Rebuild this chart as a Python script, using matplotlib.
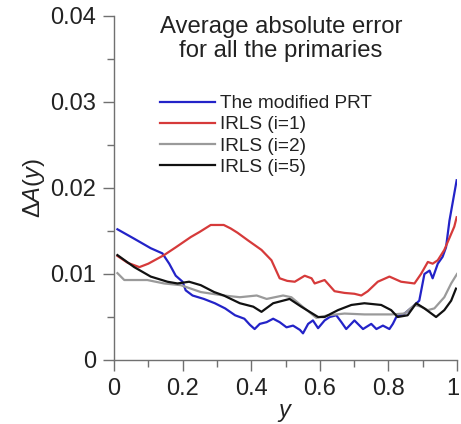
import matplotlib
matplotlib.use("Agg")
import matplotlib.pyplot as plt
from matplotlib.ticker import MultipleLocator
from matplotlib.transforms import ScaledTranslation

plt.rcParams['font.family'] = ['Liberation Sans', 'DejaVu Sans']
plt.rcParams['mathtext.fontset'] = 'custom'
plt.rcParams['mathtext.rm'] = 'Liberation Sans'
plt.rcParams['mathtext.it'] = 'Liberation Sans:italic'

# ---- data ----
labels = ["The modified PRT", "IRLS (i=1)", "IRLS (i=2)", "IRLS (i=5)"]
colors = ["#2323c8", "#d63a3a", "#9a9a9a", "#111111"]

x_prt = [0.01, 0.059, 0.107, 0.141, 0.161, 0.18, 0.2, 0.209, 0.229, 0.262, 0.294, 0.324, 0.353,
         0.38, 0.396, 0.41, 0.425, 0.445, 0.464, 0.483, 0.503, 0.522, 0.542, 0.551, 0.566, 0.58,
         0.595, 0.614, 0.629, 0.648, 0.663, 0.677, 0.701, 0.726, 0.75, 0.765, 0.784, 0.803, 0.813,
         0.823, 0.847, 0.871, 0.89, 0.905, 0.92, 0.929, 0.944, 0.958, 0.968, 0.978, 0.999]
y_prt = [0.0152, 0.0141, 0.0130, 0.0124, 0.0112, 0.0098, 0.0091, 0.0081, 0.0075, 0.0071, 0.0066,
         0.0060, 0.0052, 0.0048, 0.0041, 0.0036, 0.0042, 0.0044, 0.0048, 0.0044, 0.0038, 0.0040,
         0.0035, 0.0031, 0.0042, 0.0046, 0.0037, 0.0046, 0.0050, 0.0052, 0.0044, 0.0036, 0.0046,
         0.0036, 0.0042, 0.0036, 0.0040, 0.0036, 0.0042, 0.0050, 0.0054, 0.0062, 0.0069, 0.0100,
         0.0104, 0.0095, 0.0112, 0.0120, 0.0131, 0.0162, 0.0209]

x_i1 = [0.01, 0.04, 0.074, 0.1, 0.146, 0.18, 0.224, 0.25, 0.282, 0.32, 0.34, 0.36, 0.391, 0.43,
        0.459, 0.483, 0.505, 0.527, 0.556, 0.576, 0.585, 0.614, 0.643, 0.672, 0.701, 0.721, 0.74,
        0.769, 0.803, 0.837, 0.876, 0.895, 0.915, 0.929, 0.944, 0.963, 0.992, 0.999]
y_i1 = [0.0121, 0.0113, 0.0108, 0.0112, 0.0122, 0.0131, 0.0143, 0.0149, 0.0157, 0.0157, 0.0153,
        0.0148, 0.0139, 0.0128, 0.0116, 0.0095, 0.0092, 0.0091, 0.0098, 0.0095, 0.0089, 0.0093,
        0.0080, 0.0078, 0.0077, 0.0075, 0.0080, 0.0091, 0.0097, 0.0091, 0.0089, 0.0100, 0.0114,
        0.0112, 0.0116, 0.0128, 0.0155, 0.0166]

x_i2 = [0.01, 0.03, 0.097, 0.146, 0.195, 0.253, 0.32, 0.367, 0.416, 0.445, 0.493, 0.517, 0.556,
        0.59, 0.624, 0.672, 0.73, 0.808, 0.847, 0.876, 0.895, 0.915, 0.934, 0.963, 0.983, 1.0]
y_i2 = [0.0101, 0.0093, 0.0093, 0.0089, 0.0087, 0.0079, 0.0075, 0.0073, 0.0075, 0.0071, 0.0075,
        0.0073, 0.0060, 0.0049, 0.0052, 0.0054, 0.0053, 0.0053, 0.0054, 0.0064, 0.0062, 0.0058,
        0.0060, 0.0073, 0.0089, 0.0100]

x_i5 = [0.01, 0.059, 0.107, 0.156, 0.185, 0.219, 0.253, 0.292, 0.32, 0.367, 0.406, 0.43, 0.464,
        0.512, 0.546, 0.595, 0.614, 0.653, 0.692, 0.73, 0.779, 0.808, 0.827, 0.856, 0.881, 0.905,
        0.939, 0.963, 0.983, 0.997]
y_i5 = [0.0122, 0.0108, 0.0097, 0.0091, 0.0089, 0.0091, 0.0087, 0.0079, 0.0075, 0.0066, 0.0062,
        0.0056, 0.0066, 0.0071, 0.0062, 0.0050, 0.0050, 0.0058, 0.0064, 0.0066, 0.0064, 0.0058,
        0.0050, 0.0052, 0.0066, 0.0060, 0.0050, 0.0058, 0.0069, 0.0083]

x_ticks = [0, 0.2, 0.4, 0.6, 0.8, 1]
x_ticklabels = ["0", "0.2", "0.4", "0.6", "0.8", "1"]
y_ticks = [0, 0.01, 0.02, 0.03, 0.04]
y_ticklabels = ["0", "0.01", "0.02", "0.03", "0.04"]

title = "Average absolute error\nfor all the primaries"

# ---- figure ----
fig = plt.figure(figsize=(4.61, 4.24), dpi=100)
ax = fig.add_axes([114/461, 1 - 360/424, 343/461, 344/424])

series = [(x_prt, y_prt), (x_i1, y_i1), (x_i2, y_i2), (x_i5, y_i5)]
handles = []
for (xs, ys), c, lab in zip(series, colors, labels):
    h, = ax.plot(xs, ys, color=c, lw=1.6, label=lab)
    handles.append(h)

ax.set_xlim(0, 1)
ax.set_ylim(0, 0.04)
ax.set_xticks(x_ticks)
ax.set_xticklabels(x_ticklabels)
ax.set_yticks(y_ticks)
ax.set_yticklabels(y_ticklabels)
ax.xaxis.set_minor_locator(MultipleLocator(0.1))
ax.yaxis.set_minor_locator(MultipleLocator(0.005))

for s in ["top", "right"]:
    ax.spines[s].set_visible(False)
for s in ["left", "bottom"]:
    ax.spines[s].set_color("#707070")
    ax.spines[s].set_linewidth(1.0)
ax.tick_params(which="major", direction="out", length=8, width=1.0, color="#707070",
               labelsize=17, labelcolor="#222222", pad=5)
ax.tick_params(which="minor", direction="out", length=5, width=1.0, color="#707070")

# nudge the last x tick label so it stays inside the figure
last = ax.get_xticklabels()[-1]
last.set_transform(last.get_transform() + ScaledTranslation(-3/72, 0, fig.dpi_scale_trans))

ax.set_xlabel(r"$y$", fontsize=17, color="#222222", labelpad=1.5)
ax.set_ylabel(r"$\Delta A(y)$", fontsize=17, color="#222222", labelpad=2.5)

ax.text(0.487, 1.0, title, transform=ax.transAxes, ha="center", va="top",
        fontsize=17.2, color="#222222", linespacing=1.12)

ax.legend(handles=handles, loc="upper left", bbox_to_anchor=((160-114)/344, (360-95)/344),
          frameon=False, fontsize=13.7, handlelength=2.9, handletextpad=0.25,
          labelspacing=0.2, borderpad=0, borderaxespad=0, labelcolor="#222222")

fig.savefig("out.png", dpi=100)
